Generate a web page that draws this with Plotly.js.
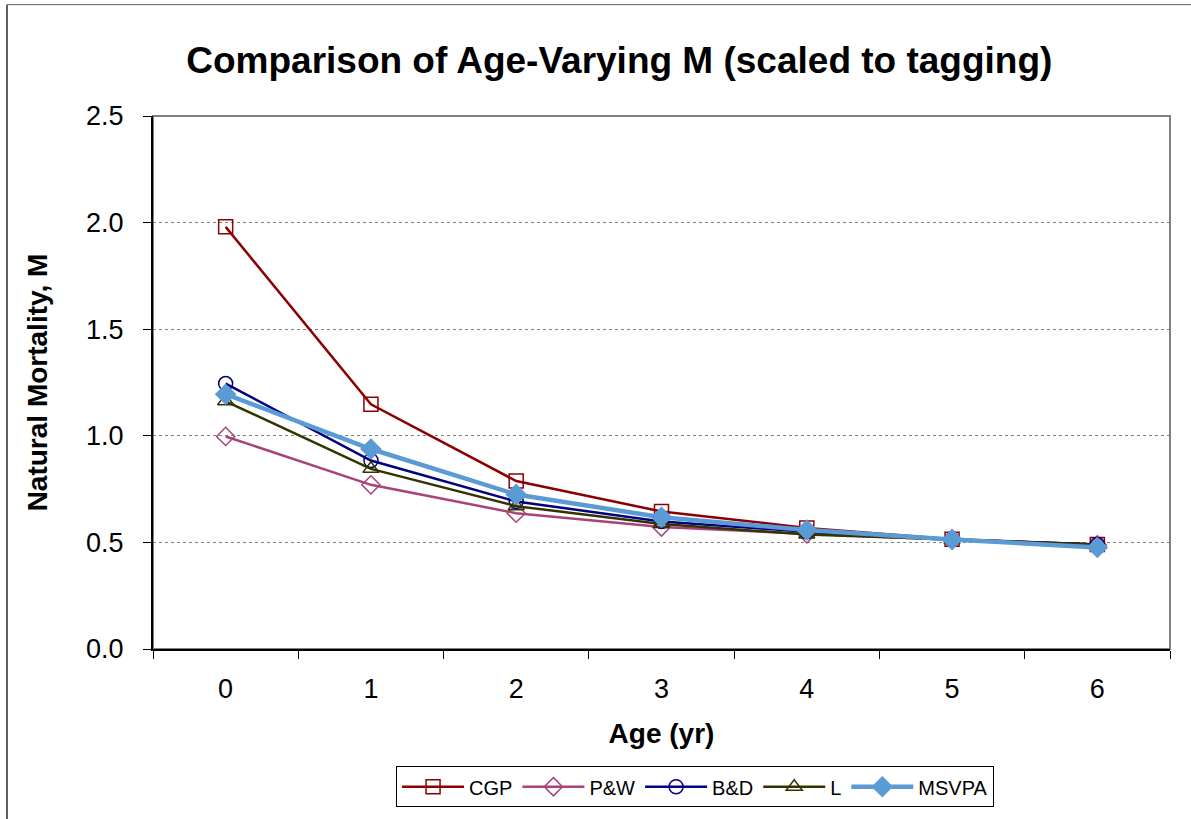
<!DOCTYPE html>
<html>
<head>
<meta charset="utf-8">
<script src="https://cdn.plot.ly/plotly-3.0.1.min.js"></script>
<style>
html,body{margin:0;padding:0;background:#fff;}
#chart{width:1191px;height:819px;}
</style>
</head>
<body>
<div id="chart"></div>
<script>
var ages = ["0", "1", "2", "3", "4", "5", "6"];
var cgp   = [1.98, 1.148, 0.788, 0.645, 0.568, 0.515, 0.490];
var pw    = [0.997, 0.770, 0.637, 0.572, 0.540, 0.512, 0.488];
var bd    = [1.245, 0.884, 0.692, 0.598, 0.550, 0.514, 0.490];
var lll   = [1.162, 0.845, 0.670, 0.586, 0.537, 0.512, 0.490];
var msvpa = [1.195, 0.938, 0.725, 0.618, 0.558, 0.514, 0.476];
var yTicks = [0, 0.5, 1.0, 1.5, 2.0, 2.5];
var yTickText = ["0.0", "0.5", "1.0", "1.5", "2.0", "2.5"];

function tr(name, y, color, sym, msize, lw) {
  return {
    x: ages, y: y, name: name, type: 'scatter', mode: 'lines+markers',
    line: {color: color, width: lw},
    marker: {symbol: sym, size: msize, color: color, line: {color: color, width: 1.5}}
  };
}

var data = [
  tr('CGP', cgp, '#8B0000', 'square-open', 14, 2.5),
  tr('P&W', pw, '#A8437A', 'diamond-open', 14, 2.5),
  tr('B&D', bd, '#000080', 'circle-open', 14, 2.5),
  tr('L', lll, '#333300', 'triangle-up-open', 14, 2.5),
  tr('MSVPA', msvpa, '#5B9BD5', 'diamond', 15, 4.5)
];

var layout = {
  width: 1191, height: 819,
  margin: {l: 153, r: 21, t: 116, b: 167},
  paper_bgcolor: '#fff', plot_bgcolor: '#fff',
  font: {family: 'Liberation Sans, Arial, sans-serif', color: '#000'},
  title: {text: '<b>Comparison of Age-Varying M (scaled to tagging)</b>',
          font: {size: 37, color: '#000'}, x: 0.52, xanchor: 'center', y: 0.927, yanchor: 'middle'},
  xaxis: {
    type: 'category', range: [-0.5, 6.5], tickson: 'boundaries',
    ticks: 'outside', ticklen: 8, tickcolor: '#000', tickwidth: 1,
    showline: true, linecolor: '#000', linewidth: 2,
    showgrid: false, zeroline: false,
    tickfont: {size: 27}, ticklabelstandoff: 15,
    title: {text: '<b>Age (yr)</b>', font: {size: 28}, standoff: 20}
  },
  yaxis: {
    range: [0, 2.5], tickvals: yTicks, ticktext: yTickText,
    ticks: 'outside', ticklen: 8, tickcolor: '#000', tickwidth: 1,
    showline: true, linecolor: '#000', linewidth: 2,
    showgrid: true, gridcolor: '#808080', griddash: 'dot', gridwidth: 1,
    zeroline: false, tickfont: {size: 27}, ticklabelstandoff: 14,
    title: {text: '<b>Natural Mortality, M</b>', font: {size: 28}, standoff: 30}
  },
  legend: {
    orientation: 'h', x: 0.533, xanchor: 'center', y: -0.22, yanchor: 'top',
    bordercolor: '#000', borderwidth: 1, bgcolor: '#fff',
    font: {size: 20}, itemwidth: 62, tracegroupgap: 0
  },
  shapes: [
    {type: 'rect', xref: 'paper', yref: 'paper', x0: 0, x1: 1, y0: 0, y1: 1,
     line: {color: '#808080', width: 2}, layer: 'below'},
    {type: 'line', xref: 'paper', yref: 'paper',
     x0: (7 - 153) / 1017, x1: (1191 - 153) / 1017, y0: (652 - 4) / 536, y1: (652 - 4) / 536,
     line: {color: '#606060', width: 1}},
    {type: 'line', xref: 'paper', yref: 'paper',
     x0: (7 - 153) / 1017, x1: (7 - 153) / 1017, y0: (652 - 4) / 536, y1: (652 - 830) / 536,
     line: {color: '#606060', width: 2}}
  ],
  showlegend: true
};

Plotly.newPlot('chart', data, layout, {displayModeBar: false, staticPlot: true});
</script>
</body>
</html>
